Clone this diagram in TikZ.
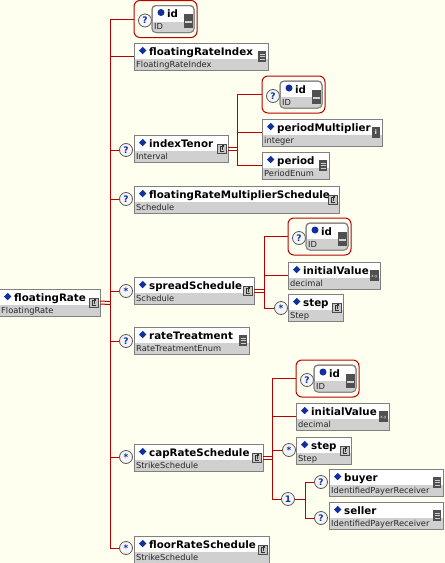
\documentclass[tikz,border=0pt]{standalone}
\usepackage{fontspec}
\setmainfont{DejaVu Sans}
\usetikzlibrary{positioning,calc}

\definecolor{paper}{HTML}{FFFFF0}
\definecolor{wirered}{HTML}{B80000}
\definecolor{boxgray}{HTML}{808080}
\definecolor{typegray}{HTML}{D0D0D0}
\definecolor{markblue}{HTML}{1030A0}
\definecolor{icondark}{HTML}{505050}

\tikzset{
  wire/.style={draw=wirered, line width=1pt},
  ebox/.style={draw=boxgray, fill=white, line width=1pt, minimum height=27,
               inner sep=0, outer sep=0},
  idframe/.style={draw=wirered, fill=paper, line width=1pt, rounded corners=6,
                  minimum width=63, minimum height=37, inner sep=0, outer sep=0},
  idbox/.style={draw=boxgray, fill=white, line width=1pt, rounded corners=4,
                minimum width=42, minimum height=27, inner sep=0, outer sep=0},
  occ/.style={circle, draw=boxgray!70!black, fill=gray!8, line width=0.8pt,
              minimum size=13, inner sep=0, text=markblue,
              font=\fontsize{9}{9}\selectfont\bfseries},
  namefont/.style={font=\fontsize{10.3}{12}\selectfont\bfseries, inner sep=0},
  typefont/.style={font=\fontsize{8.3}{9}\selectfont, text=black!85, inner sep=0},
}

% element box: name, x, y (top), width, label, type, icon
\newcommand\elem[7]{%
  \node[ebox, minimum width=#4, anchor=north west] (#1) at (#2,#3) {};
  \fill[typegray] ([shift={(0.5,16)}]#1.north west) rectangle ([shift={(-0.5,-0.5)}]#1.south east);
  \fill[markblue] ([shift={(5,7.5)}]#1.north west) -- ++(3.7,-3.7) -- ++(3.7,3.7) -- ++(-3.7,3.7) -- cycle;
  \node[namefont, anchor=base west] at ([shift={(15,12)}]#1.north west) {#5};
  \node[typefont, anchor=base west] at ([shift={(2,24)}]#1.north west) {#6};
  #7{#1}}

% icons at the right edge of a box
\newcommand\ctype[1]{%
  \draw[fill=gray!45, draw=black!70, line width=0.6pt]
    ([shift={(-10.5,-4.5)}]#1.east) rectangle ([shift={(-2,4.5)}]#1.east);
  \draw[black!80, line width=0.6pt] ([shift={(-4.5,-2)}]#1.east) -- ++(-3,0) -- ++(0,5) -- ++(3,0);
  \draw[black!80, line width=0.6pt] ([shift={(-5.5,1)}]#1.east) -- ++(0,-4) -- ++(1,0);}
\newcommand\enumt[1]{%
  \fill[icondark] ([shift={(-10,-5.5)}]#1.east) rectangle ([shift={(-2,5.5)}]#1.east);
  \foreach \k in {-2.5,0,2.5}
    \draw[gray!40, line width=0.8pt] ([shift={(-8.5,\k)}]#1.east) -- ++(5,0);}
\newcommand\intt[1]{%
  \fill[icondark] ([shift={(-10,-5.5)}]#1.east) rectangle ([shift={(-2,5.5)}]#1.east);
  \node[text=white, font=\fontsize{6}{6}\selectfont\bfseries, inner sep=0]
    at ([shift={(-6,0)}]#1.east) {i};}
\newcommand\dect[1]{%
  \fill[icondark] ([shift={(-10,-5.5)}]#1.east) rectangle ([shift={(-1,5.5)}]#1.east);
  \node[text=white, font=\fontsize{4}{4}\selectfont, inner sep=0]
    at ([shift={(-5.5,1)}]#1.east) {x.y};}
\newcommand\idt[1]{%
  \fill[icondark] ([shift={(-10,-5)}]#1.east) rectangle ([shift={(-1,9)}]#1.east);
  \fill[gray!35] ([shift={(-9,2)}]#1.east) rectangle ([shift={(-2,4)}]#1.east);}

% optional id element in its red frame: name, x, y (top)
\newcommand\idgroup[3]{%
  \node[idframe, anchor=north west] (#1) at (#2,#3) {};
  \node[occ] (#1occ) at ($(#1.north west)+(11,20)$) {?};
  \node[idbox, anchor=north west] (#1box) at ($(#1.north west)+(18,5)$) {};
  \begin{scope}
    \clip[rounded corners=4] (#1box.north west) rectangle (#1box.south east);
    \fill[typegray] ($(#1box.north west)+(0,16)$) rectangle (#1box.south east);
  \end{scope}
  \draw[boxgray, line width=1pt, rounded corners=4] (#1box.north west) rectangle (#1box.south east);
  \fill[markblue] ($(#1box.north west)+(9,7)$) circle (3.5);
  \node[namefont, anchor=base west] at ($(#1box.north west)+(15,12)$) {id};
  \node[typefont, anchor=base west] at ($(#1box.north west)+(2,24)$) {ID};
  \idt{#1box}}

\begin{document}
\begin{tikzpicture}[x=1pt, y=-1pt]
  \fill[paper] (0,0) rectangle (445,563);
  \useasboundingbox (0,0) rectangle (445,563);

  % root
  \elem{rate}{-1}{289}{101}{floatingRate}{FloatingRate}{\ctype}
  \coordinate (bus) at (110,303);

  % children of floatingRate
  \idgroup{idTop}{134}{0.5}
  \elem{fri}{134}{43}{134}{floatingRateIndex}{FloatingRateIndex}{\enumt}
  \node[occ] (tenorocc) at (126,150) {?};
  \elem{tenor}{134}{135}{94}{indexTenor}{Interval}{\ctype}
  \node[occ] (frmsocc) at (126,199) {?};
  \elem{frms}{134}{186}{205}{floatingRateMultiplierSchedule}{Schedule}{\ctype}
  \node[occ] (spreadocc) at (126,291) {*};
  \elem{spread}{134}{277}{120}{spreadSchedule}{Schedule}{\ctype}
  \node[occ] (rtocc) at (126,341) {?};
  \elem{rt}{134}{327}{115}{rateTreatment}{RateTreatmentEnum}{\enumt}
  \node[occ] (capocc) at (126,457) {*};
  \elem{cap}{134}{444}{129}{capRateSchedule}{StrikeSchedule}{\ctype}
  \node[occ] (flooroc) at (126,548) {*};
  \elem{floor}{134}{536}{135}{floorRateSchedule}{StrikeSchedule}{\ctype}

  % indexTenor
  \coordinate (tenorbus) at (237,148.5);
  \idgroup{idTenor}{262}{76}
  \elem{pm}{262}{119}{120}{periodMultiplier}{integer}{\intt}
  \elem{period}{262}{152}{67}{period}{PeriodEnum}{\enumt}

  % spreadSchedule
  \coordinate (spreadbus) at (264,290.5);
  \idgroup{idSpread}{288}{218}
  \elem{ivS}{288}{262}{92}{initialValue}{decimal}{\dect}
  \node[occ] (stepSocc) at (281,308) {*};
  \elem{stepS}{288}{294}{55}{step}{Step}{\ctype}

  % capRateSchedule
  \coordinate (capbus) at (272,457.5);
  \idgroup{idCap}{296}{360}
  \elem{ivC}{296}{403}{93}{initialValue}{decimal}{\dect}
  \node[occ] (stepCocc) at (289,450) {*};
  \elem{stepC}{296}{437}{55}{step}{Step}{\ctype}
  \node[occ] (choice) at (288,499) {1};
  \coordinate (choicebus) at (305,499);
  \node[occ] (buyerocc) at (321,482) {?};
  \elem{buyer}{329}{469}{114}{buyer}{IdentifiedPayerReceiver}{\enumt}
  \node[occ] (sellerocc) at (321,518) {?};
  \elem{seller}{329}{502}{114}{seller}{IdentifiedPayerReceiver}{\enumt}

  % connectors
  \draw[wire] ($(rate.east)+(0,-1.5)$) -- ($(bus)+(0,-1.5)$);
  \draw[wire] ($(rate.east)+(0,1.5)$) -- ($(bus)+(0,1.5)$);
  \draw[wire] (bus |- idTop) -- (bus |- flooroc);
  \draw[wire] (bus |- idTop) -- (idTop.west);
  \draw[wire] (bus |- fri) -- (fri.west);
  \draw[wire] (bus |- tenorocc) -- (tenorocc);
  \draw[wire] (bus |- frmsocc) -- (frmsocc);
  \draw[wire] (bus |- spreadocc) -- (spreadocc);
  \draw[wire] (bus |- rtocc) -- (rtocc);
  \draw[wire] (bus |- capocc) -- (capocc);
  \draw[wire] (bus |- flooroc) -- (flooroc);

  \draw[wire] ($(tenor.east)+(0,-1.5)$) -- ($(tenorbus)+(0,-1.5)$);
  \draw[wire] ($(tenor.east)+(0,1.5)$) -- ($(tenorbus)+(0,1.5)$);
  \draw[wire] (tenorbus |- idTenor) -- (tenorbus |- period);
  \draw[wire] (tenorbus |- idTenor) -- (idTenor.west);
  \draw[wire] (tenorbus |- pm) -- (pm.west);
  \draw[wire] (tenorbus |- period) -- (period.west);

  \draw[wire] ($(spread.east)+(0,-1.5)$) -- ($(spreadbus)+(0,-1.5)$);
  \draw[wire] ($(spread.east)+(0,1.5)$) -- ($(spreadbus)+(0,1.5)$);
  \draw[wire] (spreadbus |- idSpread) -- (spreadbus |- stepSocc);
  \draw[wire] (spreadbus |- idSpread) -- (idSpread.west);
  \draw[wire] (spreadbus |- ivS) -- (ivS.west);
  \draw[wire] (spreadbus |- stepSocc) -- (stepSocc);

  \draw[wire] ($(cap.east)+(0,-1.5)$) -- ($(capbus)+(0,-1.5)$);
  \draw[wire] ($(cap.east)+(0,1.5)$) -- ($(capbus)+(0,1.5)$);
  \draw[wire] (capbus |- idCap) -- (capbus |- choice);
  \draw[wire] (capbus |- idCap) -- (idCap.west);
  \draw[wire] (capbus |- ivC) -- (ivC.west);
  \draw[wire] (capbus |- stepCocc) -- (stepCocc);
  \draw[wire] (capbus |- choice) -- (choice);
  \draw[wire] (choice) -- (choicebus);
  \draw[wire] (choicebus |- buyerocc) -- (choicebus |- sellerocc);
  \draw[wire] (choicebus |- buyerocc) -- (buyerocc);
  \draw[wire] (choicebus |- sellerocc) -- (sellerocc);
\end{tikzpicture}
\end{document}
